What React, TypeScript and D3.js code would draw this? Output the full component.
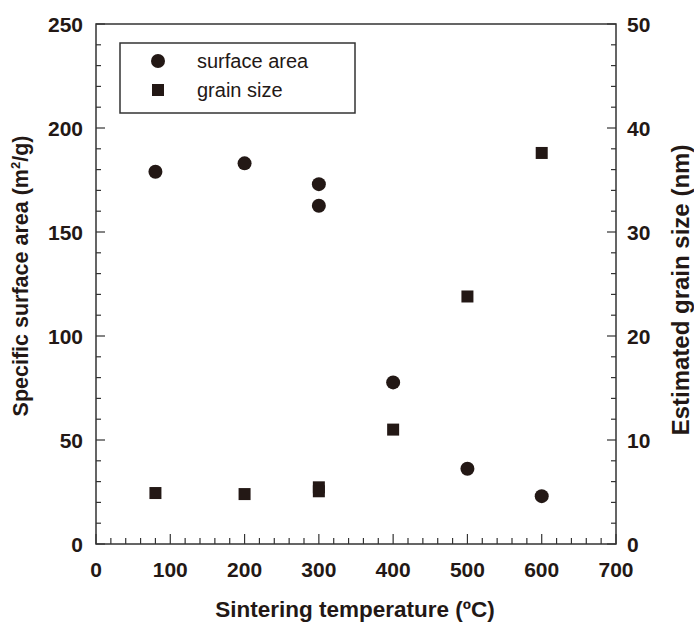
import React, { useEffect, useRef } from "react";
import * as d3 from "d3";

// sintering temperature (ºC)
const saTemps = [80, 200, 300, 300, 400, 500, 600];
const surfaceArea = [179, 183, 173, 162.6, 77.7, 36.2, 23];
const gsTemps = [80, 200, 300, 300, 400, 500, 600];
const grainSize = [4.9, 4.8, 5.45, 5.07, 11.0, 23.8, 37.6];

const xTicks = [0, 100, 200, 300, 400, 500, 600, 700];
const leftTicks = [0, 50, 100, 150, 200, 250];
const rightTicks = [0, 10, 20, 30, 40, 50];

const legendItems = ["surface area", "grain size"];

const W = 694, H = 622;
const margin = { top: 24, right: 78, bottom: 78, left: 96 };

const App = () => {
  const svgRef = useRef<SVGSVGElement>(null);

  useEffect(() => {
    const svg = d3.select(svgRef.current);
    svg.selectAll("*").remove();
    const iw = W - margin.left - margin.right;
    const ih = H - margin.top - margin.bottom;
    const ink = "#231815";
    const font = "Arial, 'Liberation Sans', sans-serif";

    const g = svg.append("g").attr("transform", `translate(${margin.left},${margin.top})`);

    const x = d3.scaleLinear().domain([0, 700]).range([0, iw]);
    const yL = d3.scaleLinear().domain([0, 250]).range([ih, 0]);
    const yR = d3.scaleLinear().domain([0, 50]).range([ih, 0]);

    // frame
    g.append("rect")
      .attr("width", iw).attr("height", ih)
      .attr("fill", "none").attr("stroke", "#333").attr("stroke-width", 1.5);

    // ticks (inward)
    const tickG = g.append("g").attr("stroke", "#333").attr("stroke-width", 1.2);
    d3.range(0, 701, 20).forEach(v => {
      const len = v % 100 === 0 ? 10 : 6;
      tickG.append("line").attr("x1", x(v)).attr("x2", x(v)).attr("y1", ih).attr("y2", ih - len);
    });
    d3.range(0, 251, 10).forEach(v => {
      const len = v % 50 === 0 ? 9 : 5;
      tickG.append("line").attr("x1", 0).attr("x2", len).attr("y1", yL(v)).attr("y2", yL(v));
    });
    d3.range(0, 51, 2).forEach(v => {
      const len = v % 10 === 0 ? 9 : 5;
      tickG.append("line").attr("x1", iw).attr("x2", iw - len).attr("y1", yR(v)).attr("y2", yR(v));
    });

    // tick labels
    const lab = (sel: any) => sel.attr("font-family", font).attr("font-weight", "bold")
      .attr("font-size", 21).attr("fill", ink);
    xTicks.forEach(v => {
      lab(g.append("text")).attr("x", x(v)).attr("y", ih + 33).attr("text-anchor", "middle").text(v);
    });
    leftTicks.forEach(v => {
      lab(g.append("text")).attr("x", -13).attr("y", yL(v)).attr("dy", "0.36em")
        .attr("text-anchor", "end").text(v);
    });
    rightTicks.forEach(v => {
      lab(g.append("text")).attr("x", iw + 11).attr("y", yR(v)).attr("dy", "0.36em")
        .attr("text-anchor", "start").text(v);
    });

    // axis titles
    lab(g.append("text")).attr("font-size", 22.5).attr("x", iw / 2 - 1).attr("y", ih + 73)
      .attr("text-anchor", "middle").text("Sintering temperature (ºC)");
    const lt = lab(g.append("text")).attr("font-size", 21.5).attr("text-anchor", "middle")
      .attr("transform", `translate(${-68},${252}) rotate(-90)`);
    lt.append("tspan").text("Specific surface area (m");
    lt.append("tspan").attr("font-size", 13).attr("dy", -8).text("2");
    lt.append("tspan").attr("dy", 8).text("/g)");
    lab(g.append("text")).attr("font-size", 24).attr("text-anchor", "middle")
      .attr("transform", `translate(${iw + 73},${266}) rotate(-90)`)
      .text("Estimated grain size (nm)");

    // surface area points
    g.selectAll("circle.sa").data(saTemps).enter().append("circle")
      .attr("class", "sa")
      .attr("cx", d => x(d)).attr("cy", (d, i) => yL(surfaceArea[i]))
      .attr("r", 7).attr("fill", ink);

    // grain size points
    g.selectAll("rect.gs").data(gsTemps).enter().append("rect")
      .attr("class", "gs")
      .attr("x", d => x(d) - 6).attr("y", (d, i) => yR(grainSize[i]) - 6)
      .attr("width", 12).attr("height", 12).attr("fill", ink);

    // legend
    const lg = svg.append("g").attr("transform", "translate(120,43)");
    lg.append("rect").attr("width", 235).attr("height", 70)
      .attr("fill", "white").attr("stroke", "#333").attr("stroke-width", 1.5);
    legendItems.forEach((name, i) => {
      const cy = 18 + i * 29;
      if (i === 0) lg.append("circle").attr("cx", 38).attr("cy", cy).attr("r", 7).attr("fill", ink);
      else lg.append("rect").attr("x", 32).attr("y", cy - 6).attr("width", 12).attr("height", 12).attr("fill", ink);
      lg.append("text").attr("x", 77).attr("y", cy).attr("dy", "0.36em")
        .attr("font-family", font).attr("font-size", 20).attr("fill", ink).text(name);
    });
  }, []);

  return (
    <div>
      <svg ref={svgRef} width={W} height={H}
        style={{ position: "absolute", left: 0, top: 0, background: "white" }}></svg>
    </div>
  );
};

export default App;
